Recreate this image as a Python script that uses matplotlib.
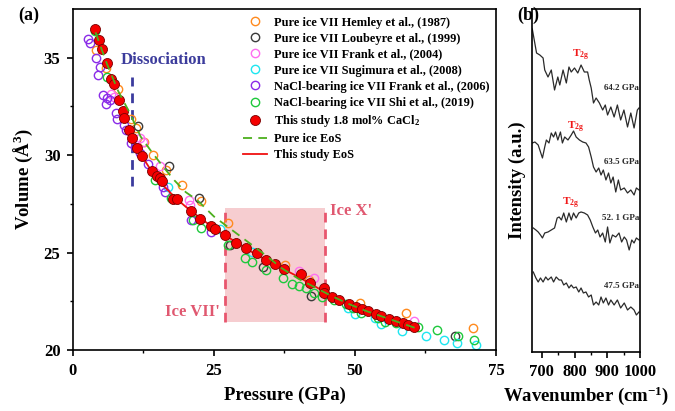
import matplotlib
matplotlib.use("Agg")
import matplotlib.pyplot as plt
from matplotlib.patches import Rectangle

plt.rcParams['font.family'] = ['Liberation Serif', 'DejaVu Serif']
plt.rcParams['font.weight'] = 'bold'
plt.rcParams['mathtext.fontset'] = 'custom'
plt.rcParams['mathtext.rm'] = 'Liberation Serif:bold'
plt.rcParams['mathtext.bf'] = 'Liberation Serif:bold'
plt.rcParams['mathtext.it'] = 'Liberation Serif:bold'
plt.rcParams['axes.linewidth'] = 1.2

# ---------------- Panel (a) data ----------------
hemley_p = [4.15, 5.80, 7.98, 10.35, 11.24, 12.59, 14.18, 16.56, 19.36, 22.77, 27.55, 37.54, 41.79, 50.83, 58.99, 71.0]
hemley_v = [35.38, 34.45, 33.37, 31.88, 31.37, 30.68, 30.03, 29.23, 28.49, 27.64, 26.50, 24.38, 23.59, 22.43, 21.91, 21.15]

loubeyre_p = [11.52, 17.06, 22.38, 27.78, 33.63, 42.15, 67.67]
loubeyre_v = [31.51, 29.44, 27.79, 25.38, 24.24, 22.79, 20.74]

frank04_p = [6.81, 7.22, 11.83, 12.41, 15.46, 20.57, 20.82, 40.02, 42.68, 60.46]
frank04_v = [33.16, 32.97, 30.90, 30.68, 29.44, 27.68, 27.44, 24.03, 23.69, 21.51]

sugimura_p = [16.84, 26.01, 31.77, 48.76, 49.95, 53.49, 54.68, 58.40, 62.54, 65.73, 68.16, 71.52]
sugimura_v = [28.37, 26.23, 25.05, 22.14, 21.85, 21.63, 21.33, 20.99, 20.70, 20.51, 20.34, 20.27]

frank06_p = [2.66, 2.96, 4.15, 4.86, 4.43, 5.32, 6.03, 5.80, 6.63, 7.70, 7.80, 8.99, 9.47, 10.35, 10.94, 11.83, 13.30, 15.96, 16.26, 20.87, 24.54]
frank06_v = [35.98, 35.76, 34.96, 34.53, 34.10, 33.08, 32.91, 32.65, 32.82, 32.14, 31.88, 31.54, 31.28, 30.60, 30.43, 30.09, 29.57, 28.37, 28.12, 26.67, 26.07]

shi_p = [3.85, 5.98, 14.49, 17.45, 21.28, 22.77, 27.48, 30.44, 31.74, 34.17, 37.23, 38.83, 40.07, 41.38, 42.73, 44.22, 46.28, 48.44, 49.65, 51.13, 54.08, 55.27, 57.34, 61.24, 64.54, 68.33, 71.05]
shi_v = [36.36, 34.00, 28.72, 27.78, 26.67, 26.27, 25.38, 24.70, 24.53, 24.10, 23.68, 23.38, 23.28, 23.16, 22.94, 22.73, 22.56, 22.36, 22.14, 21.88, 21.64, 21.45, 21.40, 21.16, 21.05, 20.70, 20.51]

this_p = [3.97, 4.61, 5.14, 6.06, 6.81, 7.22, 8.16, 8.81, 9.11, 9.91, 10.46, 11.42, 12.30, 14.01, 14.93, 15.37, 15.82, 17.77, 18.51, 20.87, 22.46, 24.41, 25.18, 27.02, 28.97, 30.62, 32.62, 34.29, 35.76, 37.36, 40.37, 42.09, 44.56, 44.56, 46.0, 47.11, 48.94, 50.12, 51.31, 52.30, 53.79, 54.68, 56.03, 57.22, 58.51, 59.40, 60.46]
this_v = [36.49, 35.90, 35.43, 34.72, 33.93, 33.64, 32.82, 32.26, 31.90, 31.28, 30.87, 30.37, 29.95, 29.19, 28.95, 28.81, 28.65, 27.74, 27.74, 27.13, 26.73, 26.36, 26.23, 25.90, 25.50, 25.22, 24.96, 24.62, 24.41, 24.14, 23.90, 23.42, 23.19, 22.92, 22.73, 22.56, 22.36, 22.22, 22.09, 22.00, 21.85, 21.74, 21.61, 21.49, 21.37, 21.28, 21.19]

pure_eos_p = [4, 6, 8, 10, 12, 14, 16, 18, 20, 22, 25, 28, 31, 34, 37, 40, 43, 46, 49, 52, 55, 58, 61]
pure_eos_v = [36.3, 34.7, 33.3, 32.2, 30.95, 30.15, 29.4, 28.7, 28.1, 27.7, 26.85, 26.2, 25.55, 24.9, 24.2, 23.65, 23.2, 22.75, 22.35, 22.0, 21.7, 21.4, 21.1]

this_eos_p = [10, 12, 14, 16, 18, 20, 22, 25, 28, 31, 34, 37, 40, 43, 46, 49, 52, 55, 58, 61]
this_eos_v = [31.2, 30.05, 29.15, 28.45, 27.85, 27.35, 26.9, 26.25, 25.7, 25.15, 24.65, 24.2, 23.75, 23.25, 22.75, 22.35, 22.0, 21.7, 21.4, 21.15]

dissociation_p = 10.46
dissociation_v = (28.4, 34.0)
region_p = (26.9, 44.6)
region_v = (21.44, 27.28)

# ---------------- Panel (b) data ----------------
wn1 = [671, 684, 694, 704, 709, 719, 729, 739, 749, 755, 765, 775, 783, 790, 800, 810, 820, 830, 840, 845, 851, 858, 866, 876, 886, 894, 901, 911, 921, 931, 941, 951, 962, 972, 982, 992, 997]
int1 = [331, 307, 305, 302, 290, 283, 290, 270, 283, 275, 290, 277, 293, 288, 292, 287, 295, 288, 288, 280, 272, 257, 262, 257, 250, 255, 245, 253, 243, 255, 240, 250, 233, 247, 232, 250, 252]

wn2 = [671, 679, 689, 696, 702, 709, 714, 722, 729, 736, 742, 749, 757, 763, 770, 780, 790, 797, 805, 815, 825, 835, 843, 851, 858, 866, 874, 881, 888, 896, 904, 911, 918, 926, 934, 941, 952, 962, 972, 982, 989, 997]
int2 = [217, 218, 215, 208, 202, 213, 220, 217, 227, 223, 228, 220, 228, 217, 223, 220, 225, 229, 223, 220, 218, 217, 213, 203, 193, 188, 192, 185, 190, 180, 187, 177, 183, 168, 180, 170, 172, 167, 170, 165, 172, 170]

wn3 = [674, 682, 689, 696, 702, 709, 719, 729, 739, 747, 753, 760, 767, 775, 783, 790, 797, 805, 813, 820, 830, 840, 848, 856, 864, 871, 878, 886, 894, 901, 908, 916, 926, 936, 944, 952, 959, 967, 975, 982, 989, 997]
int3 = [132, 130, 128, 125, 122, 127, 128, 130, 132, 142, 143, 140, 147, 138, 147, 140, 147, 142, 147, 148, 147, 145, 140, 133, 127, 130, 123, 127, 118, 133, 117, 125, 123, 127, 118, 123, 120, 110, 120, 117, 122, 120]

wn4 = [674, 682, 689, 696, 704, 712, 719, 729, 736, 744, 753, 760, 767, 775, 783, 790, 797, 805, 813, 820, 827, 835, 843, 851, 858, 866, 874, 881, 888, 896, 904, 911, 921, 931, 941, 952, 962, 972, 982, 989, 997]
int4 = [88, 82, 78, 82, 78, 83, 80, 83, 78, 83, 80, 80, 75, 77, 72, 75, 72, 73, 68, 72, 67, 68, 63, 65, 55, 58, 55, 63, 57, 62, 55, 60, 55, 60, 52, 57, 50, 53, 50, 45, 48]

pressure_labels = ['64.2 GPa', '63.5 GPa', '52. 1 GPa', '47.5 GPa']
label_int = [272, 198, 142, 74]
t2g_wn = [817, 802, 788]
t2g_int = [305, 233, 157]

# ---------------- Figure ----------------
fig = plt.figure(figsize=(6.75, 4.11), dpi=100)
ax = fig.add_axes([0.1081, 0.1484, 0.6267, 0.8297])
axb = fig.add_axes([0.7881, 0.1436, 0.1600, 0.8345])

ms_open = 6.0
mew_open = 1.0
open_sets = [
    (hemley_p, hemley_v, '#FF8A1E', 'Pure ice VII Hemley et al., (1987)'),
    (loubeyre_p, loubeyre_v, '#3A3A3A', 'Pure ice VII Loubeyre et al., (1999)'),
    (frank04_p, frank04_v, '#FF6EF0', 'Pure ice VII Frank et al., (2004)'),
    (sugimura_p, sugimura_v, '#1EE6F0', 'Pure ice VII Sugimura et al., (2008)'),
    (frank06_p, frank06_v, '#8A2BE8', 'NaCl-bearing ice VII Frank et al., (2006)'),
    (shi_p, shi_v, '#1EC83C', 'NaCl-bearing ice VII Shi et al., (2019)'),
]

# shaded region
ax.add_patch(Rectangle((region_p[0], region_v[0]), region_p[1] - region_p[0], region_v[1] - region_v[0],
                       facecolor='#F6CDD0', edgecolor='none', zorder=0))
for xp in region_p:
    ax.plot([xp, xp], region_v, color='#E8566E', lw=2.0, dashes=(3.5, 2.5), zorder=1)
ax.plot([dissociation_p, dissociation_p], dissociation_v, color='#3B3B9E', lw=2.0, dashes=(3.5, 2.5), zorder=1)

handles = []
for p, v, c, lab in open_sets:
    h, = ax.plot(p, v, 'o', ms=ms_open, mfc='none', mec=c, mew=mew_open, label=lab, zorder=2)
    handles.append(h)

h_this, = ax.plot(this_p, this_v, 'o', ms=7.2, mfc='#F50000', mec='#7A0000', mew=0.6,
                  label='This study 1.8 mol% CaCl$_2$', zorder=4)
h_eos_this, = ax.plot(this_eos_p, this_eos_v, '-', color='#F01010', lw=1.3, label='This study EoS', zorder=3)
h_eos_pure, = ax.plot(pure_eos_p, pure_eos_v, color='#4CB01E', lw=1.3, dashes=(5, 3.5), label='Pure ice EoS', zorder=5)
handles += [h_this, h_eos_pure, h_eos_this]

ax.set_xlim(0, 75)
ax.set_ylim(20, 37.5)
ax.set_xticks([0, 25, 50, 75])
ax.set_xticks([12.5, 37.5, 62.5], minor=True)
ax.set_yticks([20, 25, 30, 35])
ax.set_yticks([22.5, 27.5, 32.5], minor=True)
ax.tick_params(which='major', direction='out', length=4, width=1.2, labelsize=12, pad=5)
ax.tick_params(which='minor', direction='out', length=2.5, width=1.0)
ax.set_xlabel('Pressure (GPa)', fontsize=13.5, fontweight='bold', labelpad=6)
ax.set_ylabel('Volume (Å$^3$)', fontsize=13.5, fontweight='bold', labelpad=6)

ax.text(16.0, 34.9, 'Dissociation', color='#3C3C9C', fontsize=12, fontweight='bold', ha='center', va='center')
ax.text(26.0, 21.95, "Ice VII'", color='#E05870', fontsize=12, fontweight='bold', ha='right', va='center')
ax.text(45.5, 27.15, "Ice X'", color='#E05870', fontsize=12, fontweight='bold', ha='left', va='center')

leg = ax.legend(handles=handles, loc='upper left', bbox_to_anchor=(0.402, 0.978), frameon=False,
                fontsize=8.9, borderpad=0, borderaxespad=0, handlelength=1.9, handletextpad=0.6,
                labelspacing=0.33)

fig.text(0.027, 0.962, '(a)', fontsize=13, fontweight='bold', ha='left', va='center')
fig.text(0.766, 0.962, '(b)', fontsize=13, fontweight='bold', ha='left', va='center')

# ---------------- Panel (b) ----------------
for w, s in [(wn1, int1), (wn2, int2), (wn3, int3), (wn4, int4)]:
    axb.plot(w, s, color='#2A2A2A', lw=0.9)
for lab, yi in zip(pressure_labels, label_int):
    axb.text(998, yi, lab, fontsize=6.5, fontweight='bold', ha='right', va='center', color='#2A2A2A')
for xw, yi in zip(t2g_wn, t2g_int):
    axb.text(xw, yi, 'T$_{2g}$', fontsize=8, fontweight='bold', ha='center', va='center', color='#F01818')

axb.set_xlim(670, 1000)
axb.set_ylim(8, 351)
axb.set_xticks([700, 800, 900, 1000])
axb.set_xticks([750, 850, 950], minor=True)
axb.set_yticks([])
axb.tick_params(which='major', direction='out', length=4, width=1.2, labelsize=12, pad=5)
axb.tick_params(which='minor', direction='out', length=2.5, width=1.0)
axb.set_xlabel('Wavenumber (cm$^{-1}$)', fontsize=13.5, fontweight='bold', labelpad=3)
axb.set_ylabel('Intensity (a.u.)', fontsize=13.5, fontweight='bold', labelpad=4)

fig.savefig('out.png', dpi=100)
